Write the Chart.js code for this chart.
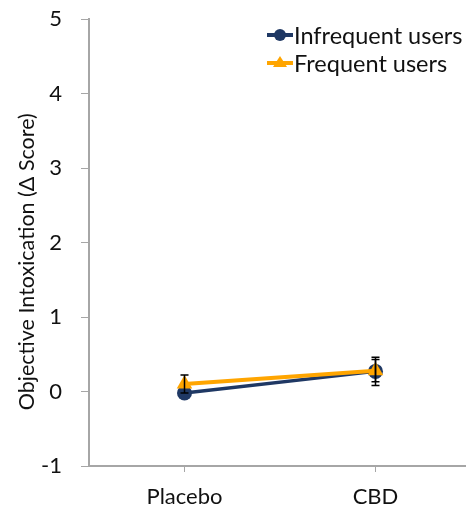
<!DOCTYPE html>
<html>
<head>
<meta charset="utf-8">
<script src="https://cdn.jsdelivr.net/npm/chart.js@4"></script>
<style>
  html, body { margin: 0; padding: 0; background: #fff; width: 466px; height: 510px; overflow: hidden; }
  /* the plot runs a few px past the right edge, as in the figure */
  #wrap { width: 480px; height: 510px; }
</style>
</head>
<body>
<div id="wrap"><canvas id="chart"></canvas></div>
<script>
// data
const categories = ["Placebo", "CBD"];
const infrequentMeans = [-0.02, 0.27];
const infrequentErr = [0.0, 0.19];
const frequentMeans = [0.1, 0.28];
const frequentErr = [0.12, 0.15];
const yTicks = [-1, 0, 1, 2, 3, 4, 5];

const navy = "#1f3864";
const orange = "#ffa500";
const fontFamily = "Lato, 'Open Sans', sans-serif";

// error bars drawn from the y scale
const errorBars = {
  id: "errorBars",
  afterDatasetsDraw(chart) {
    const ctx = chart.ctx;
    const y = chart.scales.y;
    ctx.save();
    ctx.strokeStyle = "#000";
    ctx.lineWidth = 1.5;
    chart.data.datasets.forEach((ds, i) => {
      const meta = chart.getDatasetMeta(i);
      meta.data.forEach((pt, j) => {
        const e = ds.errors[j];
        if (!e) return;
        const top = y.getPixelForValue(ds.data[j] + e);
        const bot = y.getPixelForValue(ds.data[j] - e);
        ctx.beginPath();
        ctx.moveTo(pt.x, top); ctx.lineTo(pt.x, bot);
        ctx.moveTo(pt.x - 4, top); ctx.lineTo(pt.x + 4, top);
        ctx.moveTo(pt.x - 4, bot); ctx.lineTo(pt.x + 4, bot);
        ctx.stroke();
      });
    });
    ctx.restore();
  }
};

// legend inside the plot, top right
const insideLegend = {
  id: "insideLegend",
  afterDraw(chart) {
    const ctx = chart.ctx;
    ctx.save();
    ctx.font = "23.5px " + fontFamily;
    ctx.textBaseline = "middle";
    chart.data.datasets.forEach((ds, i) => {
      const yy = 35 + i * 28;
      const x0 = 267;
      ctx.strokeStyle = ds.borderColor;
      ctx.lineWidth = 4;
      ctx.beginPath();
      ctx.moveTo(x0, yy); ctx.lineTo(x0 + 26, yy);
      ctx.stroke();
      ctx.fillStyle = ds.borderColor;
      const cx = x0 + 13;
      ctx.beginPath();
      if (ds.pointStyle === "triangle") {
        ctx.moveTo(cx, yy - 7); ctx.lineTo(cx + 7, yy + 4); ctx.lineTo(cx - 7, yy + 4);
        ctx.closePath();
      } else {
        ctx.arc(cx, yy, 6, 0, Math.PI * 2);
      }
      ctx.fill();
      ctx.fillStyle = "#111";
      ctx.fillText(ds.label, x0 + 27, yy + 1);
    });
    ctx.restore();
  }
};

new Chart(document.getElementById("chart"), {
  type: "line",
  data: {
    labels: categories,
    datasets: [
      {
        label: "Infrequent users",
        data: infrequentMeans,
        errors: infrequentErr,
        borderColor: navy,
        backgroundColor: navy,
        borderWidth: 3.5,
        pointStyle: "circle",
        pointRadius: 7.5,
        pointBorderWidth: 0,
        order: 1
      },
      {
        label: "Frequent users",
        data: frequentMeans,
        errors: frequentErr,
        borderColor: orange,
        backgroundColor: orange,
        borderWidth: 4,
        pointStyle: "triangle",
        pointRadius: 9,
        pointBorderWidth: 0,
        order: 0
      }
    ]
  },
  options: {
    responsive: true,
    maintainAspectRatio: false,
    animation: false,
    layout: { padding: { top: 19, right: 0, left: 2, bottom: 0 } },
    plugins: {
      legend: { display: false },
      tooltip: { enabled: false }
    },
    scales: {
      x: {
        offset: true,
        afterFit: (axis) => { axis.height = 44; axis.paddingLeft = 0; axis.paddingRight = 0; },
        grid: { offset: false, drawOnChartArea: false, drawTicks: true, tickLength: 6, color: "#a6a6a6" },
        border: { color: "#a6a6a6", width: 2 },
        ticks: { color: "#111", font: { family: fontFamily, size: 22 }, padding: 12 }
      },
      y: {
        min: yTicks[0],
        max: yTicks[yTicks.length - 1],
        afterBuildTicks: (axis) => { axis.ticks = yTicks.map(v => ({ value: v })); },
        afterFit: (axis) => { axis.width = 87; axis.paddingTop = 0; axis.paddingBottom = 0; },
        grid: { drawOnChartArea: false, drawTicks: true, tickLength: 8, color: "#a6a6a6" },
        border: { color: "#a6a6a6", width: 2 },
        ticks: { color: "#111", font: { family: fontFamily, size: 22 }, padding: 19 },
        title: {
          display: true,
          text: "Objective Intoxication (\u0394 Score)\u00a0\u00a0\u00a0\u00a0\u00a0\u00a0\u00a0",
          color: "#111",
          font: { family: fontFamily, size: 21.5 },
          padding: { top: 12, bottom: 0 }
        }
      }
    }
  },
  plugins: [errorBars, insideLegend]
});
</script>
</body>
</html>
